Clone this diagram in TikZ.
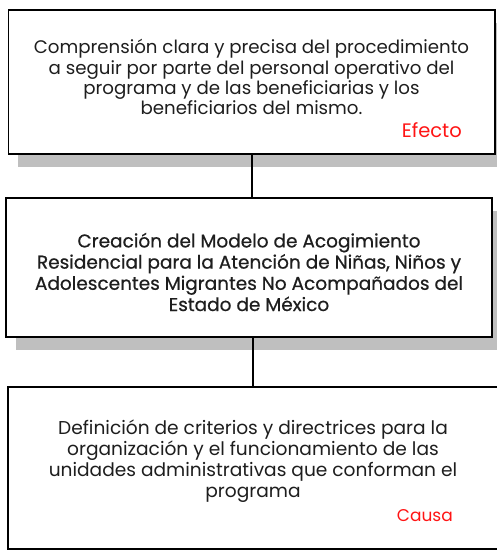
\documentclass[tikz,border=0pt]{standalone}
\usepackage{fontspec}
\setmainfont{Poppins}
\newfontfamily\medfont{Poppins}[FakeBold=0.6]
\usetikzlibrary{shadows}
\definecolor{shadowgray}{RGB}{191,191,191}
\definecolor{txt}{RGB}{30,30,30}
\definecolor{lab}{RGB}{255,20,20}
\begin{document}
\begin{tikzpicture}[x=1pt,y=-1pt,
  box/.style={draw=black, line width=1.6pt, fill=white, inner sep=0pt, outer sep=0pt,
    drop shadow={shadow xshift=9.5pt, shadow yshift=-12.5pt, fill=shadowgray, opacity=1}},
  body/.style={align=center, text=txt, inner sep=0pt},
  tag/.style={text=lab, inner sep=0pt, anchor=east},
  link/.style={draw=black, line width=1.6pt}]
\useasboundingbox (0,0) rectangle (497,550);
\clip (0,0) rectangle (497,550);
\node[box, minimum width=486.5pt, minimum height=144pt] (b1) at (251.75,82) {};
\node[box, minimum width=486pt, minimum height=139pt] (b2) at (249,267.5) {};
\node[box, minimum width=490pt, minimum height=162pt] (b3) at (253,468) {};
\draw[link] (b1.south) -- (b1.south |- b2.north);
\draw[link] (b3.north |- b2.south) -- (b3.north);
\node[body, font=\fontsize{18.2}{20.2}\selectfont] (t1) at (251.5,77) {Comprensión clara y precisa del procedimiento\\a seguir por parte del personal operativo del\\programa y de las beneficiarias y los\\beneficiarios del mismo.};
\node[tag, font=\fontsize{19.5}{21}\selectfont] (e1) at (462,130) {Efecto};
\node[body, font=\fontsize{18.5}{21.2}\medfont] (t2) at (249,272) {Creación del Modelo de Acogimiento\\Residencial para la Atención de Niñas, Niños y\\Adolescentes Migrantes No Acompañados del\\Estado de México};
\node[body, font=\fontsize{18.6}{20.8}\selectfont] (t3) at (253,461) {Definición de criterios y directrices para la\\organización y el funcionamiento de las\\unidades administrativas que conforman el\\programa};
\node[tag, font=\fontsize{17}{19}\selectfont] (c3) at (453,516) {Causa};
\end{tikzpicture}
\end{document}
